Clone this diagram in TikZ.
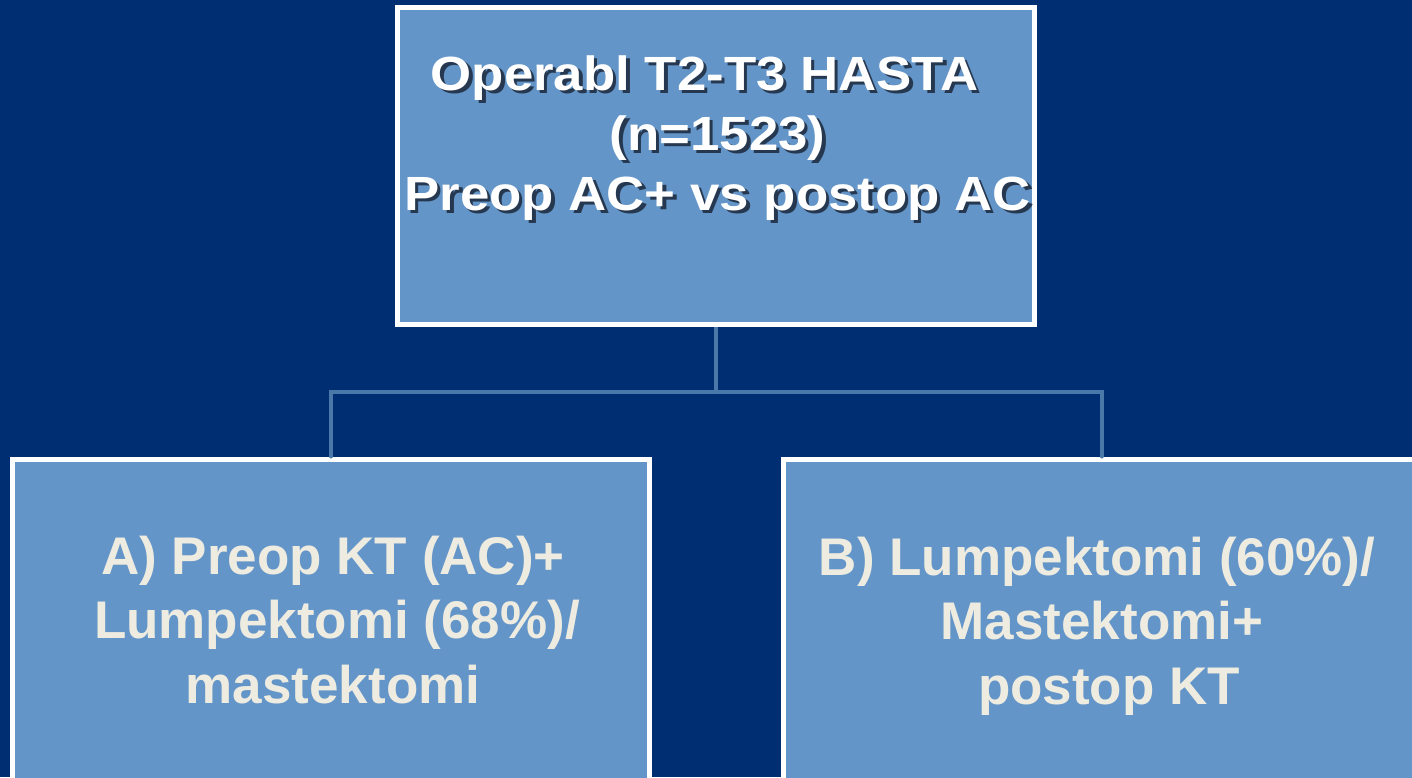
\documentclass[tikz,border=0pt]{standalone}
\usepackage{fontspec}
\setmainfont{Liberation Sans}
\newfontfamily\topfont[FakeStretch=1.1]{Liberation Sans}
\definecolor{navy}{RGB}{0,46,114}
\definecolor{boxblue}{RGB}{99,149,200}
\definecolor{connblue}{RGB}{74,120,168}
\definecolor{cream}{RGB}{238,235,224}
\definecolor{shadowc}{RGB}{38,56,80}
\newcommand{\shd}[1]{\makebox[0pt][l]{\hspace*{3.5pt}\raisebox{-3.5pt}{\color{shadowc}#1}}#1}
\tikzset{
  boxnode/.style={draw=white, line width=5pt, fill=boxblue, rectangle, inner sep=0pt},
  conn/.style={draw=connblue, line width=4pt},
  toptext/.style={align=center, text=white, font=\topfont\bfseries\fontsize{48}{60}\selectfont, inner sep=0pt},
  bottext/.style={align=center, text=cream, font=\bfseries\fontsize{53}{64.5}\selectfont, inner sep=0pt},
}
\begin{document}
\begin{tikzpicture}[x=1pt,y=-1pt]
\useasboundingbox (0,0) rectangle (1412,777);
\clip (0,0) rectangle (1412,777);
\fill[navy] (0,0) rectangle (1412,777);
% boxes
\node[boxnode, minimum width=637pt, minimum height=317pt] (top) at (716,166) {};
\node[boxnode, minimum width=637pt, minimum height=360pt] (left) at (331,639) {};
\node[boxnode, minimum width=637pt, minimum height=360pt] (right) at (1101.5,639) {};
% connectors
\coordinate (j) at (716,392);
\draw[conn] (top.south) -- (j);
\draw[conn, line cap=round] (left.north) |- (j) -| (right.north);
% top text with shadow
\node[toptext] (ttext) at (717.5,139.5) {\shd{Operabl T2-T3 HASTA}\hspace*{26pt}\\\shd{(n=1523)}\\\shd{Preop AC+ vs postop AC}};
% bottom texts
\node[bottext] (ltext) at (333,620) {A) Preop KT (AC)+\\\hspace*{8pt}Lumpektomi (68\%)/\\mastektomi};
\node[bottext] (rtext) at (1097,626) {B) Lumpektomi (60\%)/\\\hspace*{10pt}Mastektomi+\\\hspace*{24pt}postop KT};
\end{tikzpicture}
\end{document}
